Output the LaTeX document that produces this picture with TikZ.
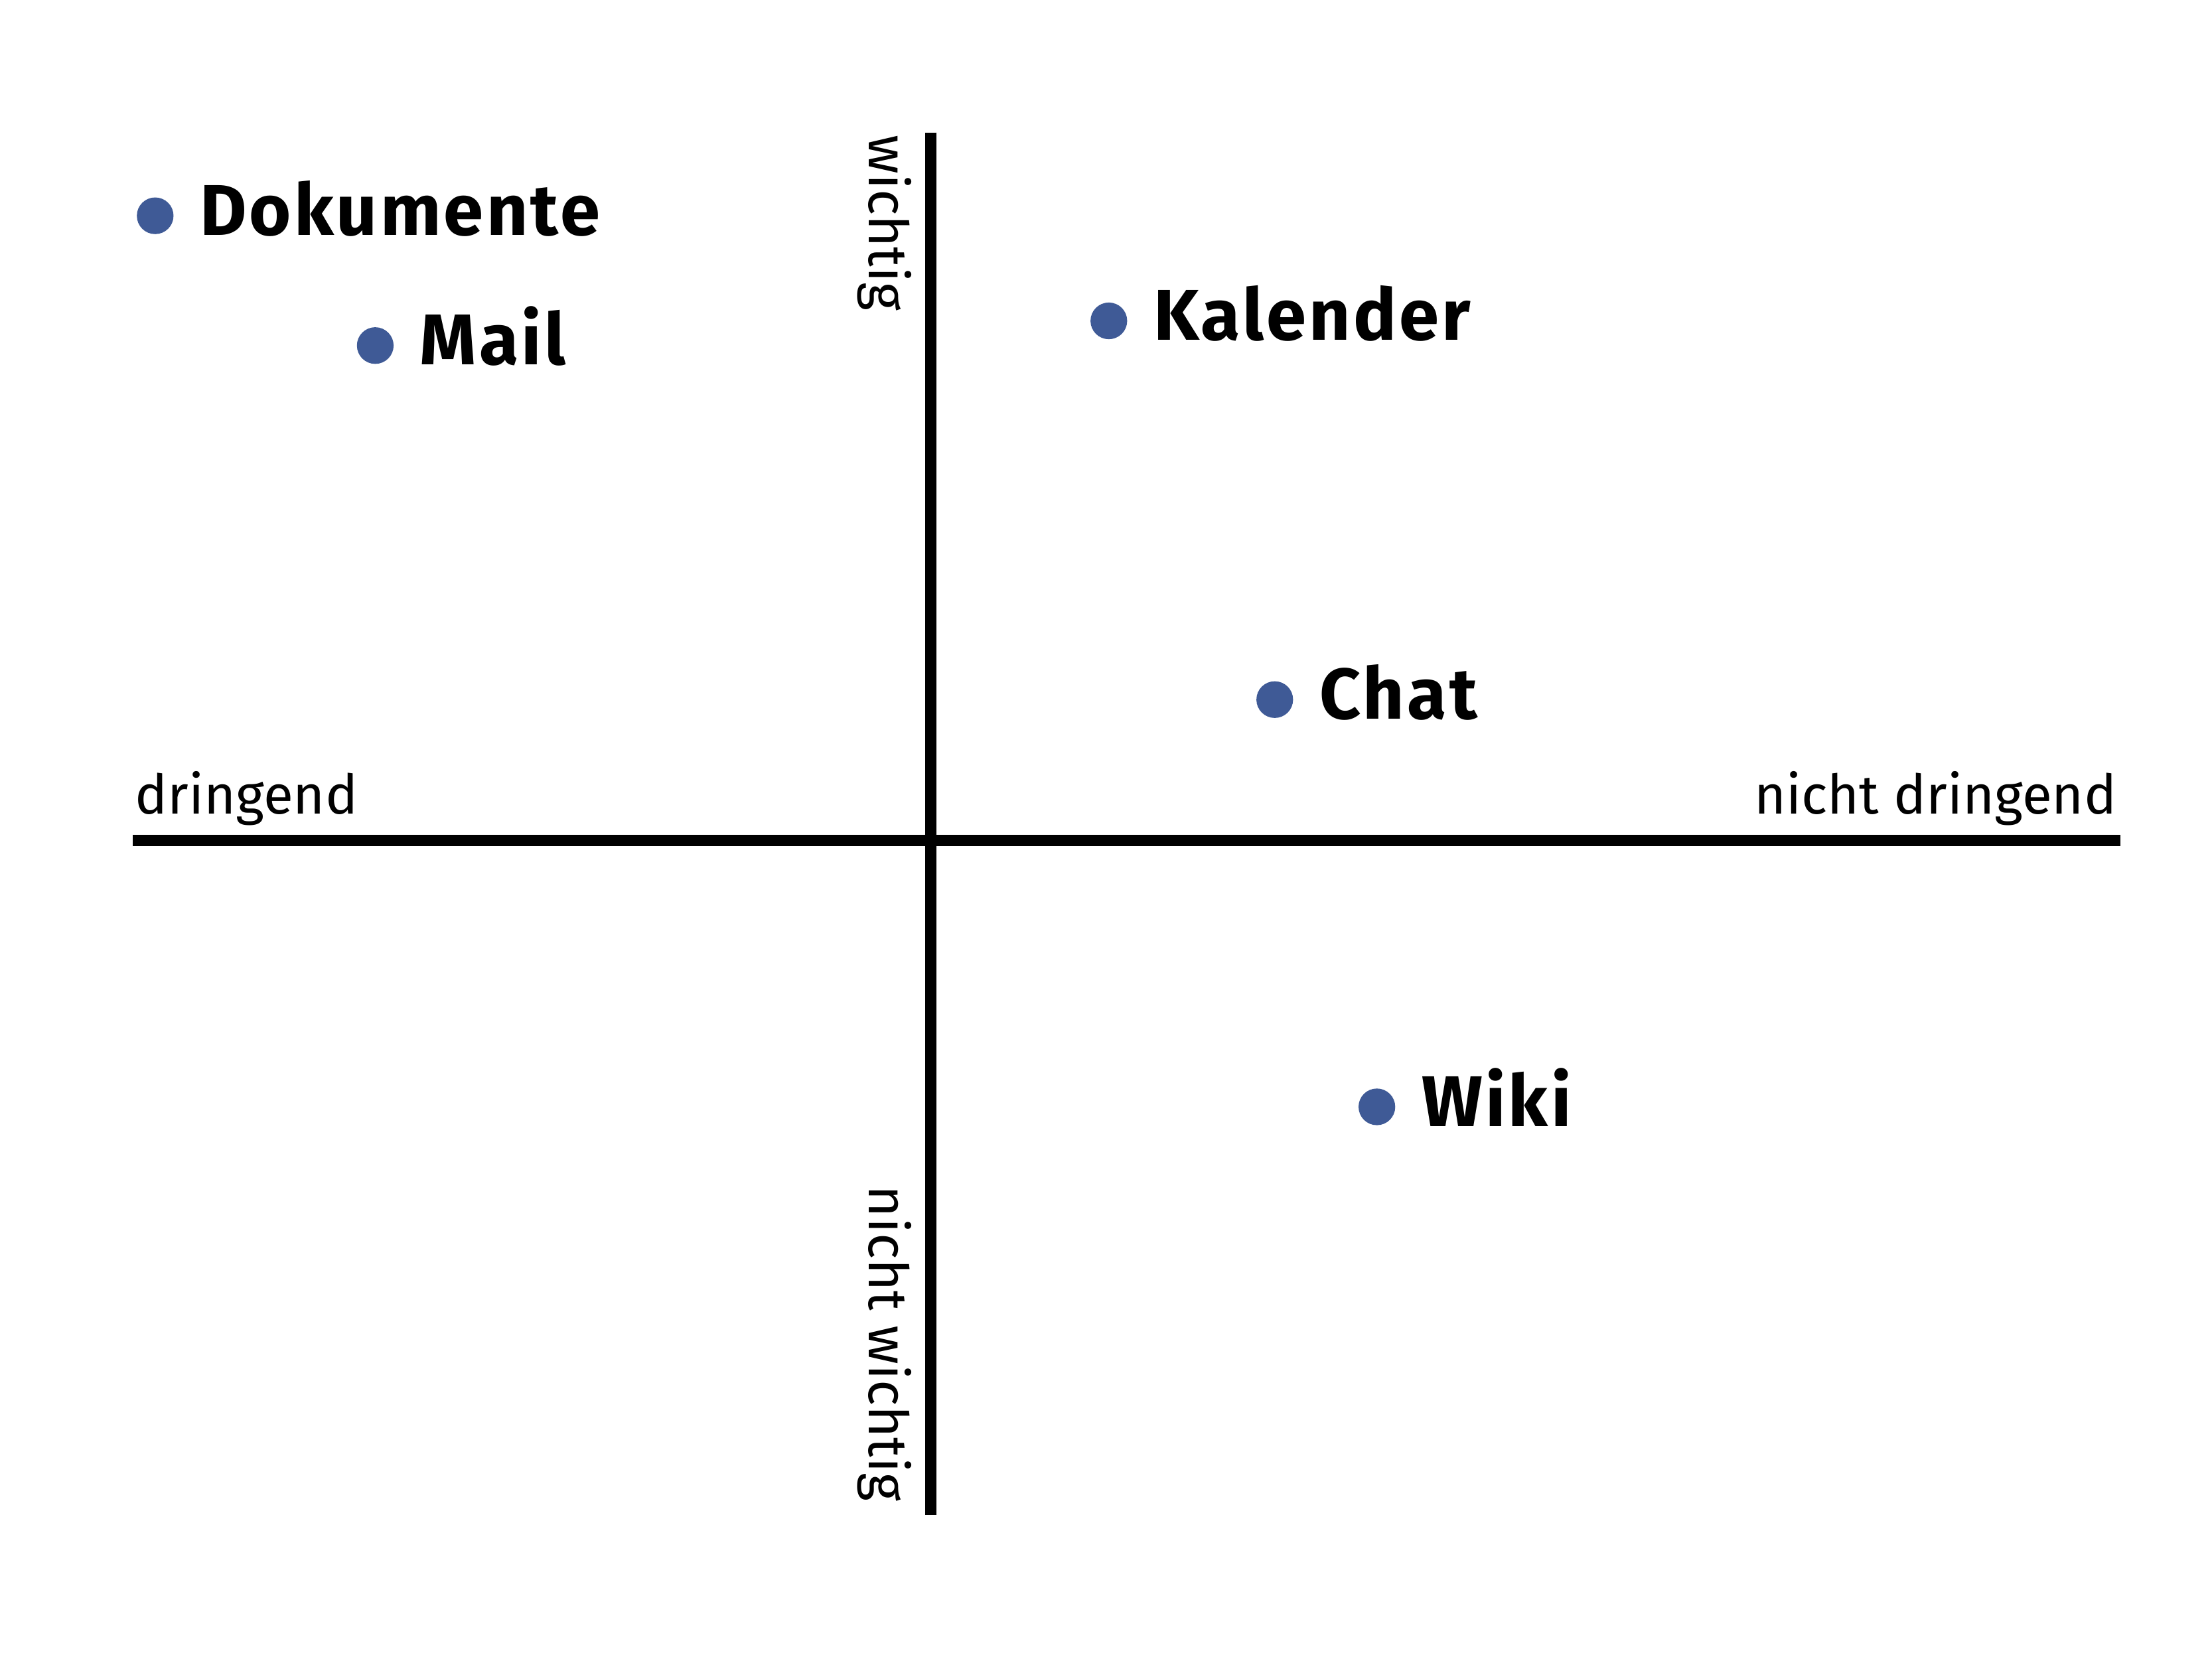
\documentclass[tikz,border=0pt]{standalone}
\usepackage{fontspec}
\setmainfont{Fira Sans}[BoldFeatures={LetterSpace=4}]
\usetikzlibrary{positioning}
\definecolor{dotblue}{RGB}{63,90,150}
\tikzset{
  axis/.style={line width=0.8mm},
  axislabel/.style={inner sep=0pt, font=\fontsize{11}{13}\selectfont},
  pt/.style={circle, fill=dotblue, minimum size=2.6mm, inner sep=0pt},
  ptlabel/.style={inner sep=0pt, font=\fontsize{14.5}{17}\selectfont\bfseries}
}

\begin{document}
\begin{tikzpicture}
  \useasboundingbox (0,0) rectangle (15.68,11.76);
  \coordinate (left) at (0.94,5.80);
  \coordinate (right) at (15.03,5.80);
  \coordinate (top) at (6.60,10.82);
  \coordinate (bottom) at (6.60,1.02);
  \draw[axis] (left) -- (right);
  \draw[axis] (top) -- (bottom);
  \node[axislabel, anchor=base west] (dringend) at (0.95,5.99) {dringend};
  \node[axislabel, anchor=base east] (nichtdringend) at (15.01,5.99) {nicht dringend};
  \node[axislabel, rotate=-90, anchor=base west] (wichtig) at (6.16,10.81) {wichtig};
  \node[axislabel, rotate=-90, anchor=base west] (nichtwichtig) at (6.16,3.36) {nicht wichtig};
  \node[pt] (dokumente) at (1.10,10.23) {};
  \node[ptlabel, right=3.1mm of dokumente.south, anchor=base west] (dokumentelabel) {Dokumente};
  \node[pt] (mail) at (2.66,9.31) {};
  \node[ptlabel, right=3.1mm of mail.south, anchor=base west] (maillabel) {Mail};
  \node[pt] (kalender) at (7.86,9.485) {};
  \node[ptlabel, right=3.1mm of kalender.south, anchor=base west] (kalenderlabel) {Kalender};
  \node[pt] (chat) at (9.036,6.80) {};
  \node[ptlabel, right=3.1mm of chat.south, anchor=base west] (chatlabel) {Chat};
  \node[pt] (wiki) at (9.76,3.913) {};
  \node[ptlabel, right=3.1mm of wiki.south, anchor=base west] (wikilabel) {Wiki};
\end{tikzpicture}
\end{document}
